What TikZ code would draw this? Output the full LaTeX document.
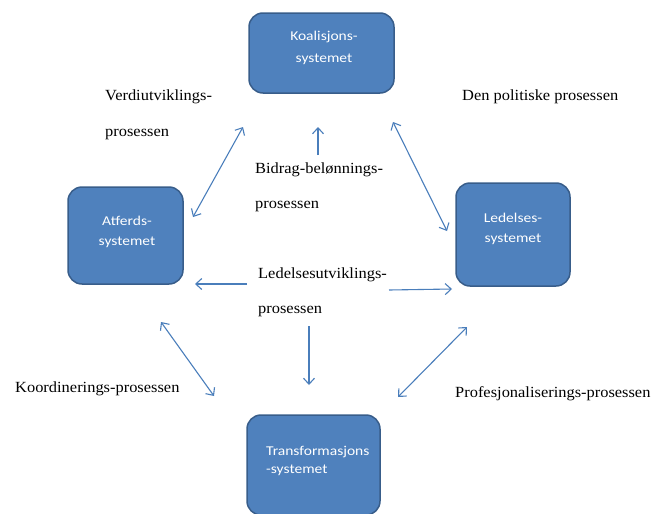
\documentclass[tikz,border=0pt]{standalone}
\usepackage{fontspec}
\setmainfont{Liberation Serif}[FakeStretch=1.06]
\newfontfamily\boxfont{Carlito}[FakeStretch=1.15]
\usetikzlibrary{arrows.meta}
\definecolor{boxfill}{HTML}{4F81BD}
\definecolor{boxline}{HTML}{385D8A}
\definecolor{arrowc}{HTML}{4A7EBB}
\begin{document}
\begin{tikzpicture}[x=1pt,y=-1pt,
  sysbox/.style={draw=boxline, fill=boxfill, line width=1.5pt, rounded corners=14pt, inner sep=0pt},
  boxtext/.style={text=white, font=\boxfont\fontsize{13.5}{18}\selectfont, inner sep=0pt},
  lbl/.style={font=\fontsize{15.5}{19}\selectfont, inner sep=0pt, anchor=base west, text=black},
  conn/.style={draw=arrowc, line width=1.1pt, {Straight Barb[length=6pt,width=11pt]}-{Straight Barb[length=6pt,width=11pt]}},
  conn1/.style={draw=arrowc, line width=1.1pt, -{Straight Barb[length=6pt,width=11pt]}}
]
\useasboundingbox (0,0) rectangle (656,514);
\clip (0,0) rectangle (656,514);

% boxes
\node[sysbox, minimum width=145pt, minimum height=80pt] (koal) at (321.5,53) {};
\node[sysbox, minimum width=115pt, minimum height=97pt] (atf) at (125.5,235.5) {};
\node[sysbox, minimum width=114pt, minimum height=103pt] (led) at (513,234.5) {};
\node[sysbox, minimum width=133pt, minimum height=100pt] (tra) at (313.5,465) {};

% box texts
\node[boxtext, anchor=base] (koalA) at (324,40) {Koalisjons-};
\node[boxtext, anchor=base] (koalB) at (324,62) {systemet};
\node[boxtext, anchor=base] (atfA) at (127,225) {Atferds-};
\node[boxtext, anchor=base] (atfB) at (127,245) {systemet};
\node[boxtext, anchor=base] (ledA) at (513,222) {Ledelses-};
\node[boxtext, anchor=base] (ledB) at (513,242) {systemet};
\node[boxtext, anchor=base west] (traA) at (266,455) {Transformasjons};
\node[boxtext, anchor=base west] (traB) at (266,473) {-systemet};

% labels
\node[lbl] (verd1) at (105,100) {Verdiutviklings-};
\node[lbl] (verd2) at (105,136) {prosessen};
\node[lbl] (den) at (462,100) {Den politiske prosessen};
\node[lbl] (bid1) at (255,173) {Bidrag-belønnings-};
\node[lbl] (bid2) at (255,208) {prosessen};
\node[lbl] (ledu1) at (258,278) {Ledelsesutviklings-};
\node[lbl] (ledu2) at (258,313) {prosessen};
\node[lbl] (koord) at (15,392) {Koordinerings-prosessen};
\node[lbl] (prof) at (455,397) {Profesjonaliserings-prosessen};

% arrow end points
\coordinate (a1s) at (193,217);
\coordinate (a1e) at (243,127);
\coordinate (a2s) at (318,155);
\coordinate (a2e) at (318,127);
\coordinate (a3s) at (393,122);
\coordinate (a3e) at (447,231);
\coordinate (a4s) at (247,284);
\coordinate (a4e) at (195,284);
\coordinate (a5s) at (389,290);
\coordinate (a5e) at (452,289);
\coordinate (a6s) at (309,326);
\coordinate (a6e) at (309,385);
\coordinate (a7s) at (161,322);
\coordinate (a7e) at (214,396);
\coordinate (a8s) at (467,327);
\coordinate (a8e) at (398,397);

\draw[conn] (a1s) -- (a1e);
\draw[conn1] (a2s) -- (a2e);
\draw[conn] (a3s) -- (a3e);
\draw[conn1] (a4s) -- (a4e);
\draw[conn1] (a5s) -- (a5e);
\draw[conn1] (a6s) -- (a6e);
\draw[conn] (a7s) -- (a7e);
\draw[conn] (a8s) -- (a8e);
\end{tikzpicture}
\end{document}
